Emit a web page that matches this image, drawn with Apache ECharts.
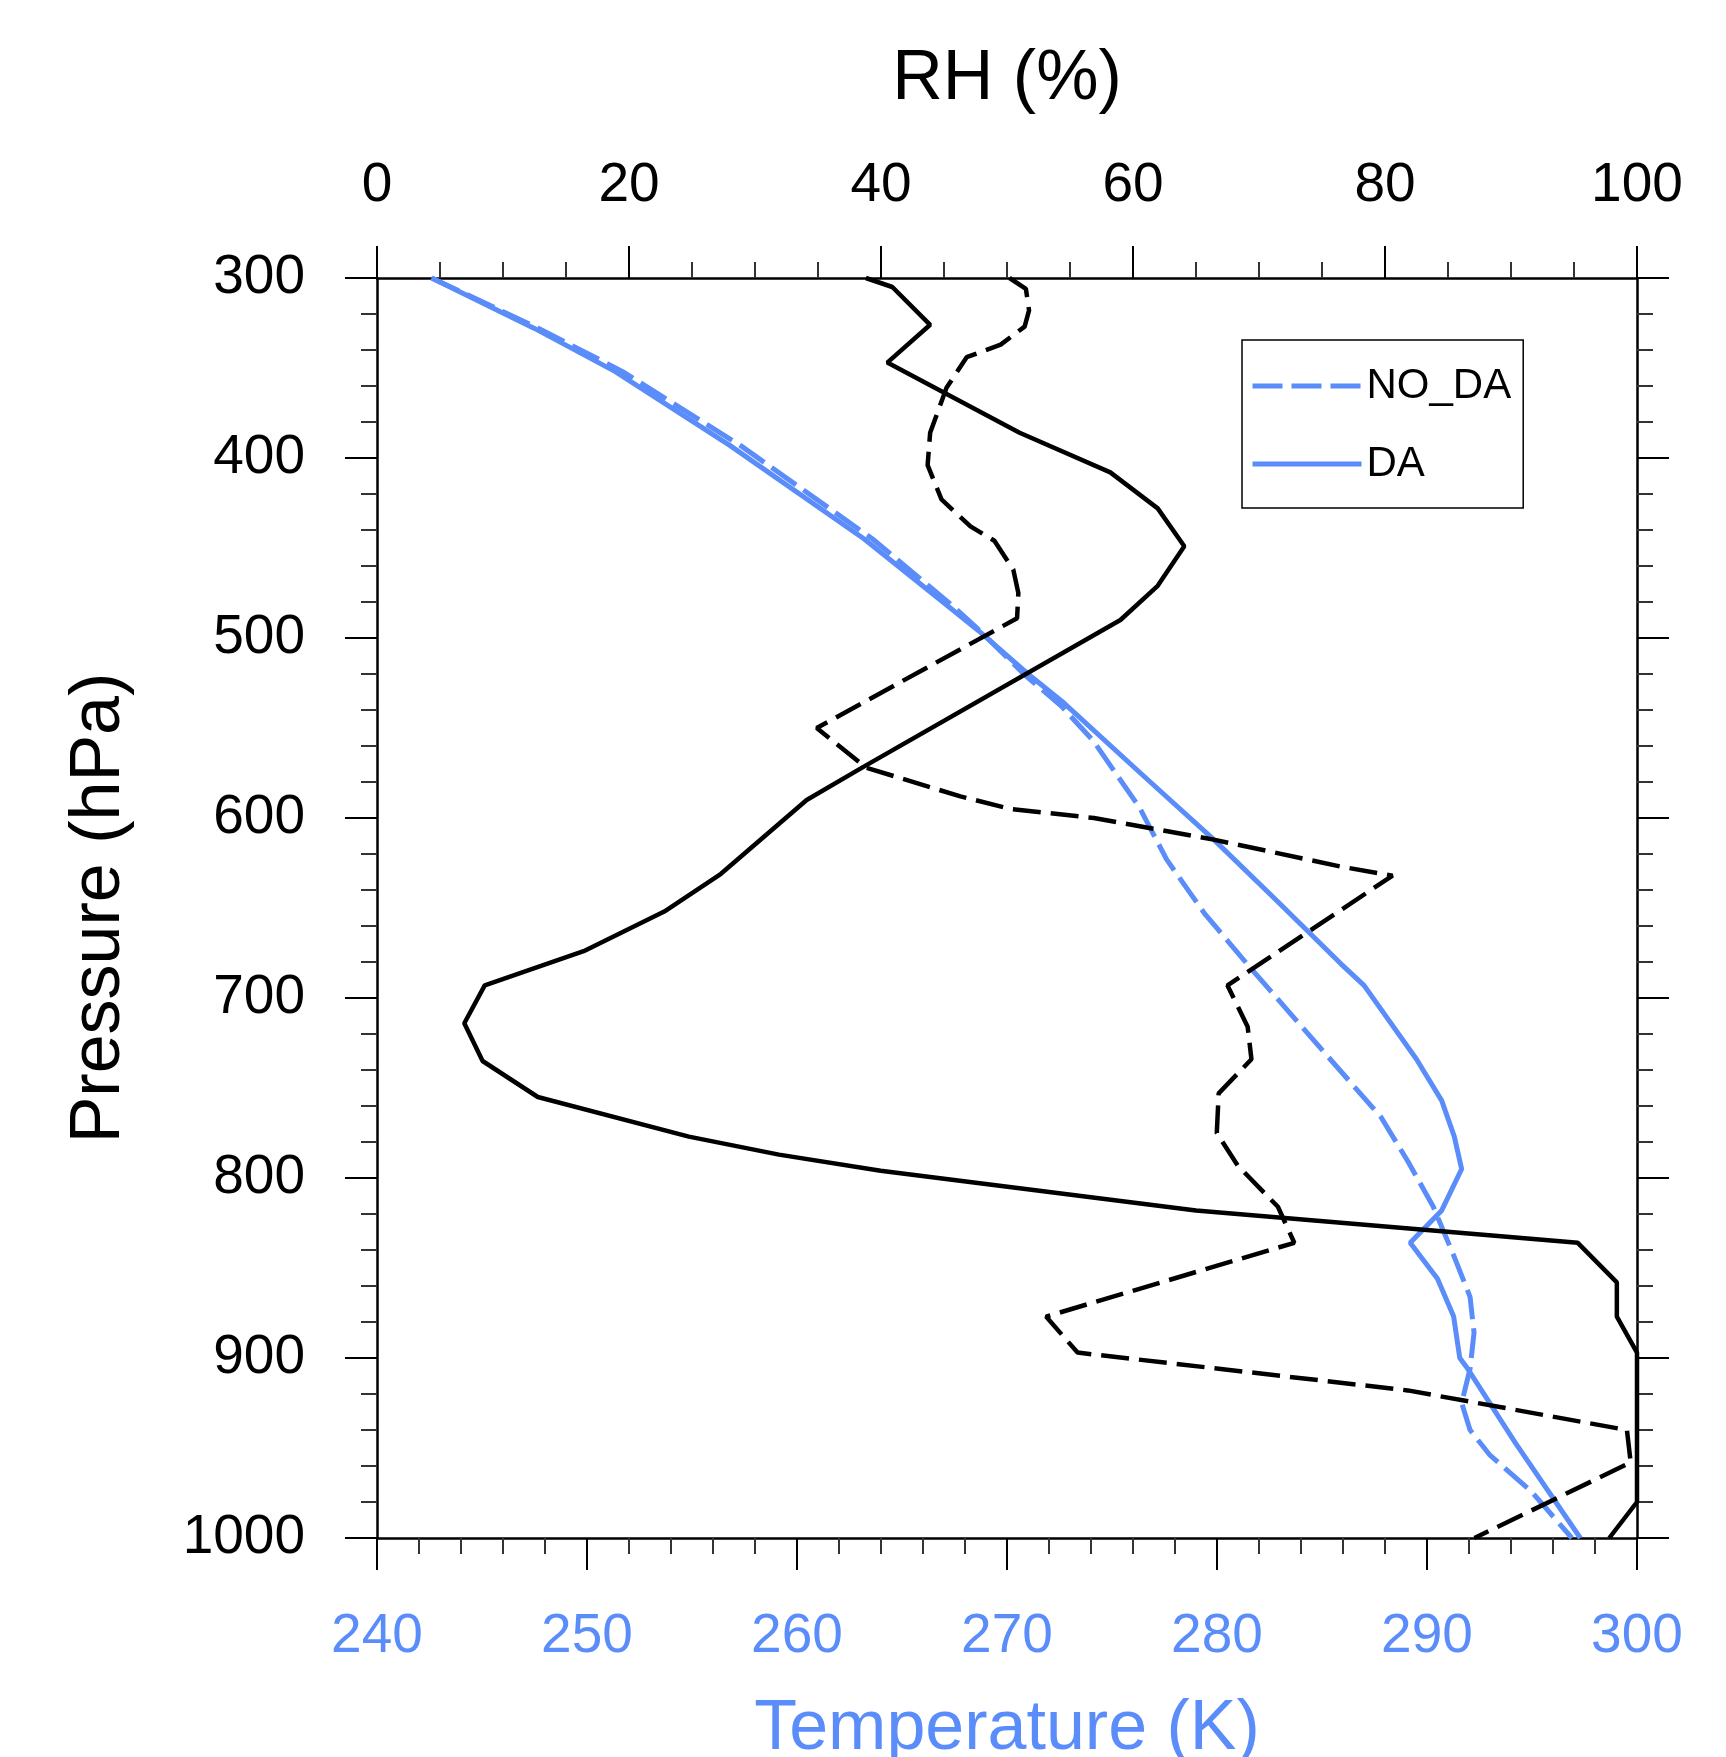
<!DOCTYPE html>
<html>
<head>
<meta charset="utf-8">
<script src="https://cdn.jsdelivr.net/npm/echarts@6/dist/echarts.min.js"></script>
<style>
html, body { margin: 0; padding: 0; background: #fff; }
#main { width: 1726px; height: 1757px; }
</style>
</head>
<body>
<div id="main"></div>
<script>
// temperature (K) on pressure levels (hPa)
var pTempDA = [300, 328, 352, 393, 445, 481, 497, 520, 536, 575, 612, 646, 681, 693, 734, 757, 777, 795, 818, 836, 856, 877, 900, 906, 947, 1000];
var tempDA = [242.6, 247.5, 251.35, 256.8, 263.2, 267.05, 268.75, 271.0, 272.7, 276.35, 279.85, 282.85, 285.9, 287.0, 289.5, 290.7, 291.3, 291.65, 290.7, 289.2, 290.5, 291.27, 291.56, 291.94, 294.2, 297.3];

var pTempNoDA = [300, 328, 352, 393, 445, 481, 497, 520, 538, 557, 594, 623, 653, 682, 732, 766, 791, 816, 843, 866, 886, 906, 925, 940, 954, 974, 1000];
var tempNoDA = [242.6, 247.7, 251.7, 257.3, 263.6, 267.3, 268.8, 270.8, 272.6, 274.1, 276.3, 277.6, 279.4, 281.5, 285.24, 287.8, 289.1, 290.3, 291.27, 292.05, 292.24, 292.05, 291.65, 292.05, 293.0, 294.96, 296.9];

// relative humidity (%)
var pRhDA = [300, 305, 326, 347, 386, 408, 428, 449, 471, 490, 572, 590, 631, 652, 674, 693, 714, 735, 755, 777, 787, 796, 818, 836, 858, 877, 897, 980, 1000];
var rhDA = [38.8, 40.9, 43.9, 40.5, 51.0, 58.2, 61.96, 64.07, 61.96, 59.0, 38.5, 34.1, 27.3, 22.8, 16.4, 8.55, 6.93, 8.38, 12.76, 24.75, 31.9, 39.97, 65.0, 95.3, 98.4, 98.4, 100, 100, 97.8];

var pRhNoDA = [300, 306, 318, 327, 337, 344, 361, 386, 404, 423, 438, 446, 462, 475, 489, 550, 572, 588, 595, 600, 612, 627, 632, 693, 716, 734, 753, 775, 793, 816, 836, 877, 897, 918, 940, 958, 1000];
var rhNoDA = [50.2, 51.5, 51.75, 51.4, 49.5, 46.8, 45.2, 43.9, 43.7, 44.8, 47.1, 49.0, 50.5, 50.9, 50.8, 34.9, 38.8, 46.3, 50.3, 56.9, 66.4, 76.5, 80.6, 67.5, 69.1, 69.4, 66.8, 66.65, 68.3, 71.5, 72.8, 53.1, 55.6, 81.8, 99.2, 99.5, 87.1];

var blue = "#5a8dfa";
var font = "'Liberation Sans', Arial, Helvetica, sans-serif";

function pairs(xs, ps) {
  return xs.map(function (x, i) { return [x, ps[i]]; });
}
function plain(v) { return String(v); }

var tickStyle = { color: "#000", width: 2 };
var minorStyle = { color: "#333", width: 2 };

var myChart = echarts.init(document.getElementById("main"));
var option = {
  animation: false,
  backgroundColor: "#fff",
  grid: { left: 377, top: 278, width: 1260, height: 1260, containLabel: false, outerBoundsMode: "none" },
  legend: {
    data: ["NO_DA", "DA"],
    orient: "vertical",
    left: 1242,
    top: 340,
    itemWidth: 109,
    itemHeight: 42,
    itemGap: 36,
    padding: [25, 12, 23, 8],
    borderColor: "#000",
    borderWidth: 1.5,
    itemStyle: { opacity: 0 },
    lineStyle: { width: 5 },
    textStyle: { fontSize: 42, color: "#000", fontFamily: font }
  },
  xAxis: [
    {
      type: "value",
      position: "bottom",
      min: 240,
      max: 300,
      interval: 10,
      axisLine: { onZero: false, lineStyle: { color: "#000", width: 2.5 } },
      axisTick: { length: 32, lineStyle: tickStyle },
      minorTick: { show: true, splitNumber: 5, length: 16, lineStyle: minorStyle },
      splitLine: { show: false },
      axisLabel: { color: blue, fontSize: 55, margin: 71, fontFamily: font, formatter: plain },
      name: "Temperature (K)",
      nameLocation: "middle",
      nameGap: 157,
      nameTextStyle: { color: blue, fontSize: 70, fontFamily: font }
    },
    {
      type: "value",
      position: "top",
      min: 0,
      max: 100,
      interval: 20,
      axisLine: { onZero: false, lineStyle: { color: "#000", width: 2.5 } },
      axisTick: { length: 32, lineStyle: tickStyle },
      minorTick: { show: true, splitNumber: 4, length: 16, lineStyle: minorStyle },
      splitLine: { show: false },
      axisLabel: { color: "#000", fontSize: 55, margin: 65, fontFamily: font, formatter: plain },
      name: "RH (%)",
      nameLocation: "middle",
      nameGap: 163,
      nameTextStyle: { color: "#000", fontSize: 70, fontFamily: font }
    }
  ],
  yAxis: [
    {
      type: "value",
      position: "left",
      inverse: true,
      min: 300,
      max: 1000,
      interval: 100,
      axisLine: { onZero: false, lineStyle: { color: "#000", width: 2.5 } },
      axisTick: { length: 32, lineStyle: tickStyle },
      minorTick: { show: true, splitNumber: 5, length: 16, lineStyle: minorStyle },
      splitLine: { show: false },
      axisLabel: { color: "#000", fontSize: 55, margin: 72, fontFamily: font, formatter: plain },
      name: "Pressure (hPa)",
      nameLocation: "middle",
      nameGap: 242,
      nameTextStyle: { color: "#000", fontSize: 70, fontFamily: font }
    },
    {
      type: "value",
      position: "right",
      inverse: true,
      min: 300,
      max: 1000,
      interval: 100,
      axisLine: { onZero: false, lineStyle: { color: "#000", width: 2.5 } },
      axisTick: { length: 32, lineStyle: tickStyle },
      minorTick: { show: true, splitNumber: 5, length: 16, lineStyle: minorStyle },
      splitLine: { show: false },
      axisLabel: { show: false }
    }
  ],
  series: [
    {
      name: "NO_DA",
      type: "line",
      xAxisIndex: 0,
      yAxisIndex: 0,
      symbol: "none",
      lineStyle: { color: blue, width: 5, type: [30, 9] },
      itemStyle: { color: blue },
      data: pairs(tempNoDA, pTempNoDA)
    },
    {
      name: "DA",
      type: "line",
      xAxisIndex: 0,
      yAxisIndex: 0,
      symbol: "none",
      lineStyle: { color: blue, width: 5 },
      itemStyle: { color: blue },
      data: pairs(tempDA, pTempDA)
    },
    {
      name: "RH NO_DA",
      type: "line",
      xAxisIndex: 1,
      yAxisIndex: 0,
      symbol: "none",
      lineStyle: { color: "#000", width: 4.5, type: [28, 10] },
      itemStyle: { color: "#000" },
      data: pairs(rhNoDA, pRhNoDA)
    },
    {
      name: "RH DA",
      type: "line",
      xAxisIndex: 1,
      yAxisIndex: 0,
      symbol: "none",
      lineStyle: { color: "#000", width: 4.5 },
      itemStyle: { color: "#000" },
      data: pairs(rhDA, pRhDA)
    }
  ]
};
myChart.setOption(option);
</script>
</body>
</html>
